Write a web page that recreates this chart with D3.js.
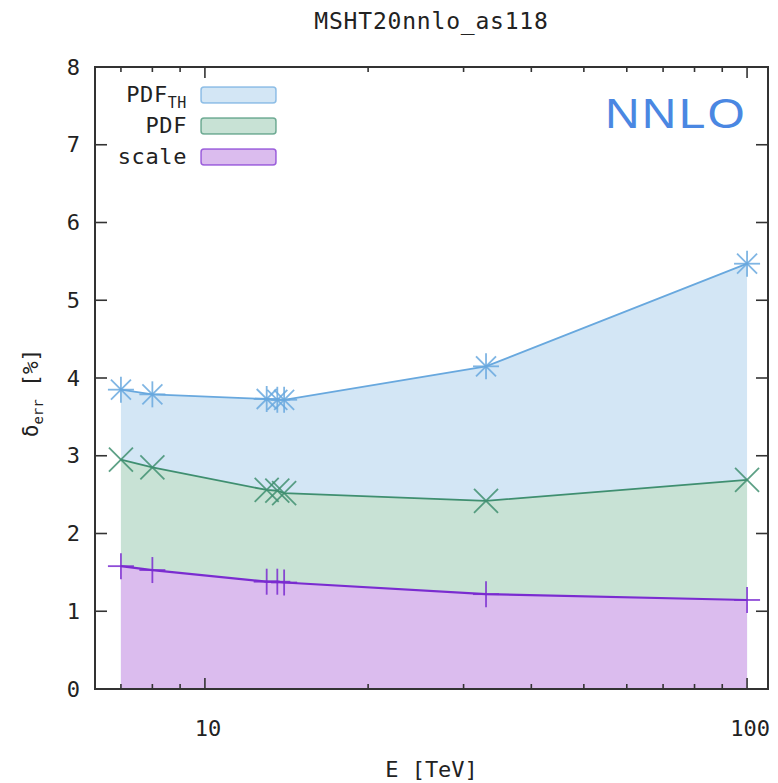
<!DOCTYPE html>
<html>
<head>
<meta charset="utf-8">
<script src="https://cdn.jsdelivr.net/npm/d3@7"></script>
<style>
  html, body { margin: 0; padding: 0; background: #fff; }
  svg { display: block; }
  .mono { font-family: "DejaVu Sans Mono", "Liberation Mono", monospace; fill: #222; }
</style>
</head>
<body>
<svg id="chart" width="778" height="783"></svg>
<script>
// Collider energies (TeV) and the relative uncertainties (%) at each one
const energies = [7, 8, 13, 13.6, 14, 33, 100];
const pdfTh    = [3.85, 3.79, 3.73, 3.72, 3.72, 4.15, 5.47];
const pdfErr   = [2.95, 2.85, 2.56, 2.55, 2.52, 2.42, 2.69];
const scaleErr = [1.58, 1.53, 1.38, 1.38, 1.37, 1.22, 1.145];

const yTicks = [0, 1, 2, 3, 4, 5, 6, 7, 8];
const xMajorTicks = [10, 100];
const xMinorTicks = [7, 8, 9, 20, 30, 40, 50, 60, 70, 80, 90];

const seriesNames = ["PDF_TH", "PDF", "scale"];

const svg = d3.select("#chart");
const margin = { left: 95, right: 10, top: 67, bottom: 94 };
const W = 778, H = 783;
const x0 = margin.left, x1 = W - margin.right;
const y0 = H - margin.bottom, y1 = margin.top;

const x = d3.scaleLog().domain([6.27, 109.3]).range([x0, x1]);
const y = d3.scaleLinear().domain([0, 8]).range([y0, y1]);

const series = [
  { name: seriesNames[0], values: pdfTh,    fill: "#d3e6f5", line: "#68a8de", marker: "asterisk" },
  { name: seriesNames[1], values: pdfErr,   fill: "#c8e2d5", line: "#3f8f70", marker: "cross" },
  { name: seriesNames[2], values: scaleErr, fill: "#dbbcee", line: "#7a2cd0", marker: "plus" }
];

// Filled bands down to zero, widest first
const area = d3.area().x(d => x(d[0])).y0(y(0)).y1(d => y(d[1]));
const line = d3.line().x(d => x(d[0])).y(d => y(d[1]));

series.forEach(s => {
  const pts = energies.map((e, i) => [e, s.values[i]]);
  svg.append("path").attr("d", area(pts)).attr("fill", s.fill);
});

// Tick marks (drawn inside the frame, mirrored on opposite sides)
const tickG = svg.append("g").attr("stroke", "#333").attr("stroke-width", 1.6);
yTicks.forEach(t => {
  if (t === 0 || t === 8) return;
  tickG.append("line").attr("x1", x0).attr("x2", x0 + 12).attr("y1", y(t)).attr("y2", y(t));
  tickG.append("line").attr("x1", x1).attr("x2", x1 - 12).attr("y1", y(t)).attr("y2", y(t));
});
xMajorTicks.forEach(t => {
  tickG.append("line").attr("x1", x(t)).attr("x2", x(t)).attr("y1", y0).attr("y2", y0 - 11);
  tickG.append("line").attr("x1", x(t)).attr("x2", x(t)).attr("y1", y1).attr("y2", y1 + 11);
});
xMinorTicks.forEach(t => {
  tickG.append("line").attr("x1", x(t)).attr("x2", x(t)).attr("y1", y0).attr("y2", y0 - 5);
  tickG.append("line").attr("x1", x(t)).attr("x2", x(t)).attr("y1", y1).attr("y2", y1 + 5);
});

// Lines and point markers
function drawMarker(g, cx, cy, kind, color) {
  const r = 13, d = 12;
  const segs = [];
  if (kind === "plus" || kind === "asterisk") {
    segs.push([cx - r, cy, cx + r, cy], [cx, cy - r, cx, cy + r]);
  }
  if (kind === "cross" || kind === "asterisk") {
    const k = kind === "asterisk" ? 10 : d;
    segs.push([cx - k, cy - k, cx + k, cy + k], [cx - k, cy + k, cx + k, cy - k]);
  }
  segs.forEach(s => g.append("line")
    .attr("x1", s[0]).attr("y1", s[1]).attr("x2", s[2]).attr("y2", s[3])
    .attr("stroke", color).attr("stroke-width", 1.8).attr("stroke-opacity", 0.85));
}

series.forEach(s => {
  const pts = energies.map((e, i) => [e, s.values[i]]);
  svg.append("path").attr("d", line(pts)).attr("fill", "none")
    .attr("stroke", s.line).attr("stroke-width", s.marker === "plus" ? 2.2 : 1.8);
  const g = svg.append("g");
  pts.forEach(p => drawMarker(g, x(p[0]), y(p[1]), s.marker, s.line));
});

// Frame
svg.append("rect").attr("x", x0).attr("y", y1).attr("width", x1 - x0).attr("height", y0 - y1)
  .attr("fill", "none").attr("stroke", "#333").attr("stroke-width", 2);

// Axis tick labels
yTicks.forEach(t => {
  svg.append("text").attr("class", "mono").attr("x", 80).attr("y", y(t))
    .attr("text-anchor", "end").attr("dominant-baseline", "central")
    .attr("font-size", 22).text(t);
});
xMajorTicks.forEach(t => {
  svg.append("text").attr("class", "mono").attr("x", x(t) + 3).attr("y", 736)
    .attr("text-anchor", "middle").attr("font-size", 22).text(t);
});

// Title
svg.append("text").attr("class", "mono").attr("x", (x0 + x1) / 2).attr("y", 29)
  .attr("text-anchor", "middle").attr("font-size", 23).attr("letter-spacing", 0.8)
  .text("MSHT20nnlo_as118");

// Axis titles
svg.append("text").attr("class", "mono").attr("x", (x0 + x1) / 2).attr("y", 777)
  .attr("text-anchor", "middle").attr("font-size", 22).text("E [TeV]");

const yl = svg.append("text").attr("class", "mono")
  .attr("transform", "translate(38,393) rotate(-90)")
  .attr("text-anchor", "middle").attr("font-size", 21);
yl.append("tspan").text("δ");
yl.append("tspan").attr("font-size", 14).attr("dy", 5).text("err");
yl.append("tspan").attr("dy", -5).text(" [%]");

// Legend
const legendRows = [95, 126, 157];
series.forEach((s, i) => {
  const cy = legendRows[i];
  const t = svg.append("text").attr("class", "mono").attr("x", 187).attr("y", cy + 7)
    .attr("text-anchor", "end").attr("font-size", 22).attr("letter-spacing", 0.6);
  if (s.name === "PDF_TH") {
    t.append("tspan").text("PDF");
    t.append("tspan").attr("font-size", 15).attr("dy", 6).text("TH");
  } else {
    t.text(s.name);
  }
  svg.append("rect").attr("x", 201).attr("y", cy - 8).attr("width", 75).attr("height", 16)
    .attr("rx", 3).attr("fill", s.fill).attr("stroke", s.line).attr("stroke-width", 1.5)
    .attr("stroke-opacity", 0.7);
});

// Perturbative order label
svg.append("text").attr("transform", "translate(605,128) scale(1.14,1)")
  .attr("font-family", "'Liberation Sans', Arial, sans-serif").attr("font-size", 42)
  .attr("letter-spacing", 2).attr("fill", "#4a87e2").text("NNLO");
</script>
</body>
</html>
